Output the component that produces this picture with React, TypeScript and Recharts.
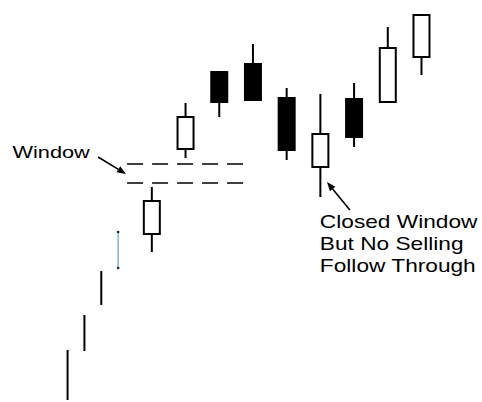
import { ComposedChart, Bar, XAxis, YAxis, ReferenceLine, ReferenceDot } from 'recharts';

// session slots: the first four are single-line bars, half a slot apart
const X_POS = [0, 0.5, 1, 1.5, 2.5, 3.5, 4.5, 5.5, 6.5, 7.5, 8.5, 9.5, 10.5];
const HIGH = [12.5, 21.25, 32.25, 42, 53.25, 74.25, 82, 89, 78, 76.5, 79.25, 93.25, 96.25];
const LOW = [0, 12.25, 23.75, 33, 37, 60.5, 70.75, 75, 60, 50.75, 63.25, 74.5, 81.25];
const OPEN = [null, null, null, null, 41.5, 62.75, 82, 84, 75.5, 58.25, 75.25, 74.5, 85.75];
const CLOSE = [null, null, null, null, 49.75, 70.75, 74.5, 75, 62.5, 66.5, 65.75, 88, 96.25];

// the window (gap) and the notes
const WINDOW_TOP = 59;
const WINDOW_BOTTOM = 54.25;
const WINDOW_FROM = 1.77;
const WINDOW_TO = 5.27;
const WINDOW_LABEL = 'Window';
const CLOSED_LABEL = ['Closed Window', 'But No Selling', 'Follow Through'];

const data = X_POS.map((x, i) => ({
  x,
  range: [LOW[i], HIGH[i]],
  high: HIGH[i],
  low: LOW[i],
  open: OPEN[i],
  close: CLOSE[i],
}));

const HIGHLIGHT = 3;
const FONT = '"Liberation Sans", Arial, Helvetica, sans-serif';

function Candle(props: any) {
  const { x, y, width, height, payload, index } = props;
  const cx = x + width / 2;
  const top = Math.min(y, y + height);
  const bottom = Math.max(y, y + height);
  const { high, low, open, close } = payload;
  const toPx = (v: number) => top + ((high - v) / (high - low)) * (bottom - top);

  if (open == null || close == null) {
    if (index === HIGHLIGHT) {
      return (
        <g>
          <line x1={cx} x2={cx} y1={top} y2={bottom} stroke="#7fb3d9" strokeWidth={1.5} />
          <circle cx={cx} cy={top} r={1.3} fill="#222" />
          <circle cx={cx} cy={bottom} r={1.3} fill="#222" />
        </g>
      );
    }
    return <line x1={cx} x2={cx} y1={top} y2={bottom} stroke="#000" strokeWidth={2} />;
  }

  const bodyTop = toPx(Math.max(open, close));
  const bodyBottom = toPx(Math.min(open, close));
  const up = close > open;
  const bw = 16;
  return (
    <g>
      <line x1={cx} x2={cx} y1={top} y2={bottom} stroke="#000" strokeWidth={2} />
      <rect
        x={cx - bw / 2}
        y={bodyTop}
        width={bw}
        height={Math.max(1, bodyBottom - bodyTop)}
        fill={up ? '#fff' : '#000'}
        stroke="#000"
        strokeWidth={2}
      />
    </g>
  );
}

function Arrow(props: any) {
  const { x1, y1, x2, y2 } = props;
  const ang = Math.atan2(y2 - y1, x2 - x1);
  const len = 9;
  const half = 3.5;
  const bx = x2 - len * Math.cos(ang);
  const by = y2 - len * Math.sin(ang);
  const px = -Math.sin(ang) * half;
  const py = Math.cos(ang) * half;
  return (
    <g>
      <line x1={x1} y1={y1} x2={bx} y2={by} stroke="#000" strokeWidth={1.6} />
      <polygon points={`${x2},${y2} ${bx + px},${by + py} ${bx - px},${by - py}`} fill="#000" />
    </g>
  );
}

function Note({ cx, cy, lines, size, stretch }: any) {
  return (
    <text
      transform={`translate(${cx},${cy}) scale(${stretch},1)`}
      fontFamily={FONT}
      fontSize={size}
      fill="#000"
    >
      {lines.map((t: string, i: number) => (
        <tspan key={i} x={0} dy={i === 0 ? 0 : 22}>
          {t}
        </tspan>
      ))}
    </text>
  );
}

export default function App() {
  return (
    <div style={{ position: 'absolute', left: 0, top: 0, width: 482, height: 402, background: '#fff' }}>
      <ComposedChart width={482} height={402} data={data} margin={{ top: 0, right: 0, bottom: 2, left: 0 }}>
        <XAxis dataKey="x" type="number" domain={[-2, 12.3]} hide allowDataOverflow />
        <YAxis type="number" domain={[0, 100]} hide allowDataOverflow />

        <ReferenceLine
          segment={[{ x: WINDOW_FROM, y: WINDOW_TOP }, { x: WINDOW_TO, y: WINDOW_TOP }]}
          stroke="#000"
          strokeWidth={1.6}
          strokeDasharray="16 9"
        />
        <ReferenceLine
          segment={[{ x: WINDOW_FROM, y: WINDOW_BOTTOM }, { x: WINDOW_TO, y: WINDOW_BOTTOM }]}
          stroke="#000"
          strokeWidth={1.6}
          strokeDasharray="16 9"
        />

        <Bar dataKey="range" barSize={18} shape={(p: any) => <Candle {...p} />} isAnimationActive={false} />

        <ReferenceLine segment={[{ x: 0.91, y: 60.75 }, { x: 1.74, y: 56.5 }]} shape={(p: any) => <Arrow {...p} />} />
        <ReferenceLine segment={[{ x: 8.38, y: 47.5 }, { x: 7.7, y: 54.5 }]} shape={(p: any) => <Arrow {...p} />} />

        <ReferenceDot
          x={-1.63}
          y={60.5}
          shape={(p: any) => <Note {...p} lines={[WINDOW_LABEL]} size={17} stretch={1.28} />}
        />
        <ReferenceDot
          x={7.49}
          y={43}
          shape={(p: any) => <Note {...p} lines={CLOSED_LABEL} size={18} stretch={1.26} />}
        />
      </ComposedChart>
    </div>
  );
}
